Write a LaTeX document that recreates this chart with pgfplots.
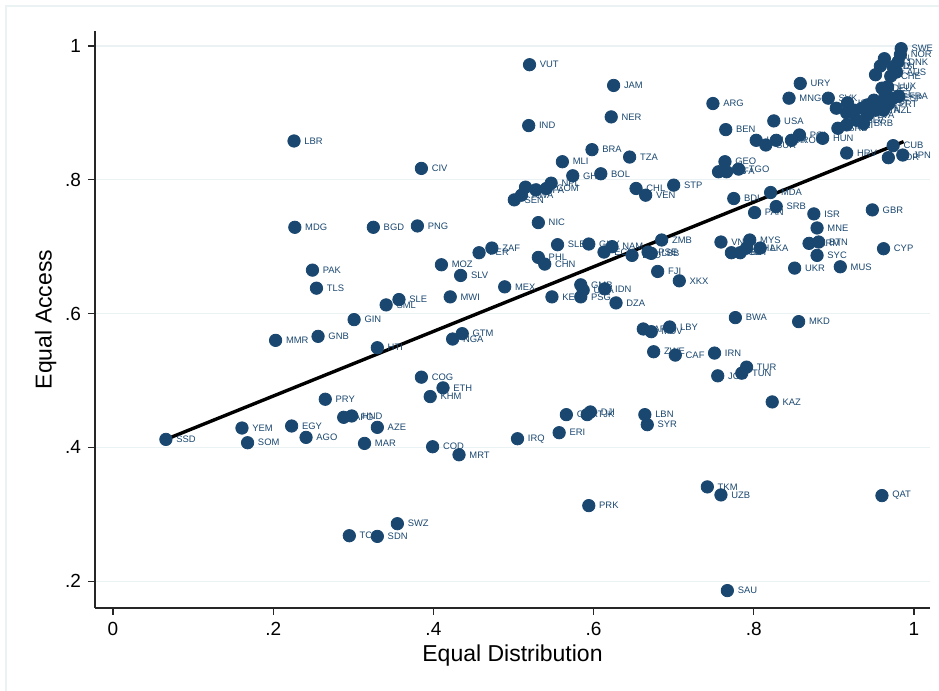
\documentclass[border=0pt]{standalone}
\usepackage{pgfplots}
\pgfplotsset{compat=1.18}
\usepackage{fontspec}
\setmainfont{Liberation Sans}
\definecolor{stnavy}{RGB}{26,71,111}
\definecolor{stgrid}{RGB}{234,242,243}
\pgfplotstableread{
x y lab
0.066 0.412 SSD
0.161 0.429 YEM
0.168 0.407 SOM
0.223 0.432 EGY
0.241 0.415 AGO
0.288 0.445 AFG
0.298 0.447 HND
0.330 0.430 AZE
0.314 0.406 MAR
0.399 0.401 COD
0.432 0.389 MRT
0.355 0.286 SWZ
0.295 0.268 TCD
0.330 0.267 SDN
0.265 0.472 PRY
0.385 0.505 COG
0.412 0.489 ETH
0.396 0.476 KHM
0.203 0.560 MMR
0.256 0.566 GNB
0.330 0.549 HTI
0.301 0.591 GIN
0.436 0.570 GTM
0.424 0.562 NGA
0.357 0.621 SLE
0.341 0.613 SML
0.421 0.625 MWI
0.249 0.665 PAK
0.254 0.638 TLS
0.410 0.673 MOZ
0.434 0.657 SLV
0.227 0.729 MDG
0.325 0.729 BGD
0.380 0.731 PNG
0.226 0.858 LBR
0.385 0.817 CIV
0.457 0.691 PER
0.473 0.698 ZAF
0.489 0.640 MEX
0.531 0.736 NIC
0.531 0.684 PHL
0.539 0.674 CHN
0.548 0.625 KEN
0.555 0.703 SLB
0.594 0.704 GUY
0.623 0.700 NAM
0.613 0.692 ECU
0.648 0.687 LSO
0.685 0.710 ZMB
0.668 0.692 PSE
0.672 0.690 LBB
0.680 0.663 FJI
0.707 0.649 XKX
0.584 0.643 GMB
0.587 0.635 UGA
0.584 0.625 PSG
0.614 0.637 IDN
0.628 0.616 DZA
0.520 0.972 VUT
0.625 0.941 JAM
0.622 0.894 NER
0.519 0.881 IND
0.598 0.845 BRA
0.645 0.834 TZA
0.561 0.827 MLI
0.574 0.806 GHA
0.609 0.809 BOL
0.700 0.792 STP
0.653 0.787 CHL
0.665 0.777 VEN
0.547 0.795 NPL
0.515 0.789 LAO
0.528 0.785 BFA
0.541 0.787 COM
0.510 0.777 RWA
0.501 0.770 SEN
0.823 0.468 KAZ
0.566 0.449 CMR
0.596 0.453 DJI
0.592 0.449 TJK
0.664 0.449 LBN
0.667 0.434 SYR
0.505 0.413 IRQ
0.557 0.422 ERI
0.742 0.341 TKM
0.759 0.329 UZB
0.960 0.328 QAT
0.594 0.313 PRK
0.767 0.186 SAU
0.662 0.577 ARM
0.672 0.573 MDV
0.695 0.580 LBY
0.675 0.543 ZWE
0.702 0.538 CAF
0.751 0.541 IRN
0.755 0.507 JOR
0.791 0.520 TUR
0.785 0.511 TUN
0.775 0.772 BDI
0.821 0.781 MDA
0.828 0.760 SRB
0.801 0.751 PAN
0.875 0.749 ISR
0.948 0.755 GBR
0.879 0.728 MNE
0.759 0.707 VNM
0.795 0.710 MYS
0.772 0.691 KGZ
0.783 0.691 BIH
0.791 0.698 THA
0.808 0.698 LKA
0.869 0.705 ARM
0.881 0.707 BTN
0.879 0.687 SYC
0.962 0.697 CYP
0.851 0.668 UKR
0.908 0.670 MUS
0.777 0.594 BWA
0.856 0.588 MKD
0.858 0.944 URY
0.749 0.914 ARG
0.844 0.922 MNG
0.893 0.922 SVK
0.825 0.888 USA
0.765 0.875 BEN
0.803 0.859 LTU
0.815 0.852 SUR
0.828 0.859 BGR
0.847 0.859 ROU
0.857 0.867 POL
0.886 0.862 HUN
0.764 0.827 GEO
0.756 0.812 ALB
0.766 0.812 BFA
0.781 0.816 TGO
0.916 0.840 HRV
0.974 0.851 CUB
0.986 0.837 JPN
0.968 0.833 KOR
0.984 0.996 SWE
0.983 0.987 NOR
0.980 0.976 DNK
0.963 0.981 FIN
0.974 0.969 ISL
0.958 0.970 NLD
0.978 0.961 AUS
0.971 0.955 CHE
0.952 0.957 AUT
0.960 0.937 DEU
0.967 0.939 LUX
0.964 0.928 BEL
0.981 0.925 FRA
0.974 0.922 ESP
0.950 0.919 IRL
0.958 0.915 EST
0.968 0.913 PRT
0.942 0.912 SVN
0.952 0.904 ITA
0.962 0.904 NZL
0.935 0.907 CZE
0.942 0.897 LVA
0.926 0.904 CAN
0.917 0.915 ISR
0.903 0.907 BLR
0.916 0.900 GRC
0.928 0.889 SLV
0.937 0.884 BRB
0.916 0.882 CRI
0.905 0.877 SRB
}\pts
\begin{document}
\begin{tikzpicture}
\path[use as bounding box] (0,0) rectangle (469.5pt,345.5pt);
\draw[stgrid, line width=0.6pt] (3pt,0) -- (3pt,342.5pt) -- (469.5pt,342.5pt);
\begin{axis}[
  at={(47.5pt,41.5pt)}, anchor=south west,
  scale only axis, width=417.5pt, height=288.5pt,
  xmin=-0.0225, xmax=1.020, ymin=0.160, ymax=1.0224,
  axis x line*=bottom, axis y line*=left,
  axis line style={line width=0.8pt, color=black!85},
  xtick={0,0.2,0.4,0.6,0.8,1}, xticklabels={0,.2,.4,.6,.8,1},
  ytick={0.2,0.4,0.6,0.8,1}, yticklabels={.2,.4,.6,.8,1},
  tick align=outside, major tick length=3.5pt,
  tick style={line width=0.6pt, color=black!85},
  ymajorgrids, grid style={stgrid, line width=0.6pt},
  tick label style={font=\fontsize{9.5}{11}\selectfont},
  xlabel={Equal Distribution}, ylabel={Equal Access},
  label style={font=\fontsize{11.5}{13}\selectfont},
  xlabel style={yshift=2pt},
  ylabel style={yshift=-2.5pt},
  clip=false,
]
\addplot[only marks, mark=*, mark size=3.1pt, color=stnavy,
  mark options={fill=stnavy, draw=stnavy},
  nodes near coords, point meta=explicit symbolic,
  every node near coord/.append style={anchor=west, xshift=5pt, inner sep=0pt,
    font=\fontsize{4.7}{5}\selectfont, text=stnavy}]
  table[x=x, y=y, meta=lab] {\pts};
\addplot[black, line width=1.7pt] coordinates {(0.066,0.412) (0.987,0.857)};
\end{axis}
\end{tikzpicture}
\end{document}
